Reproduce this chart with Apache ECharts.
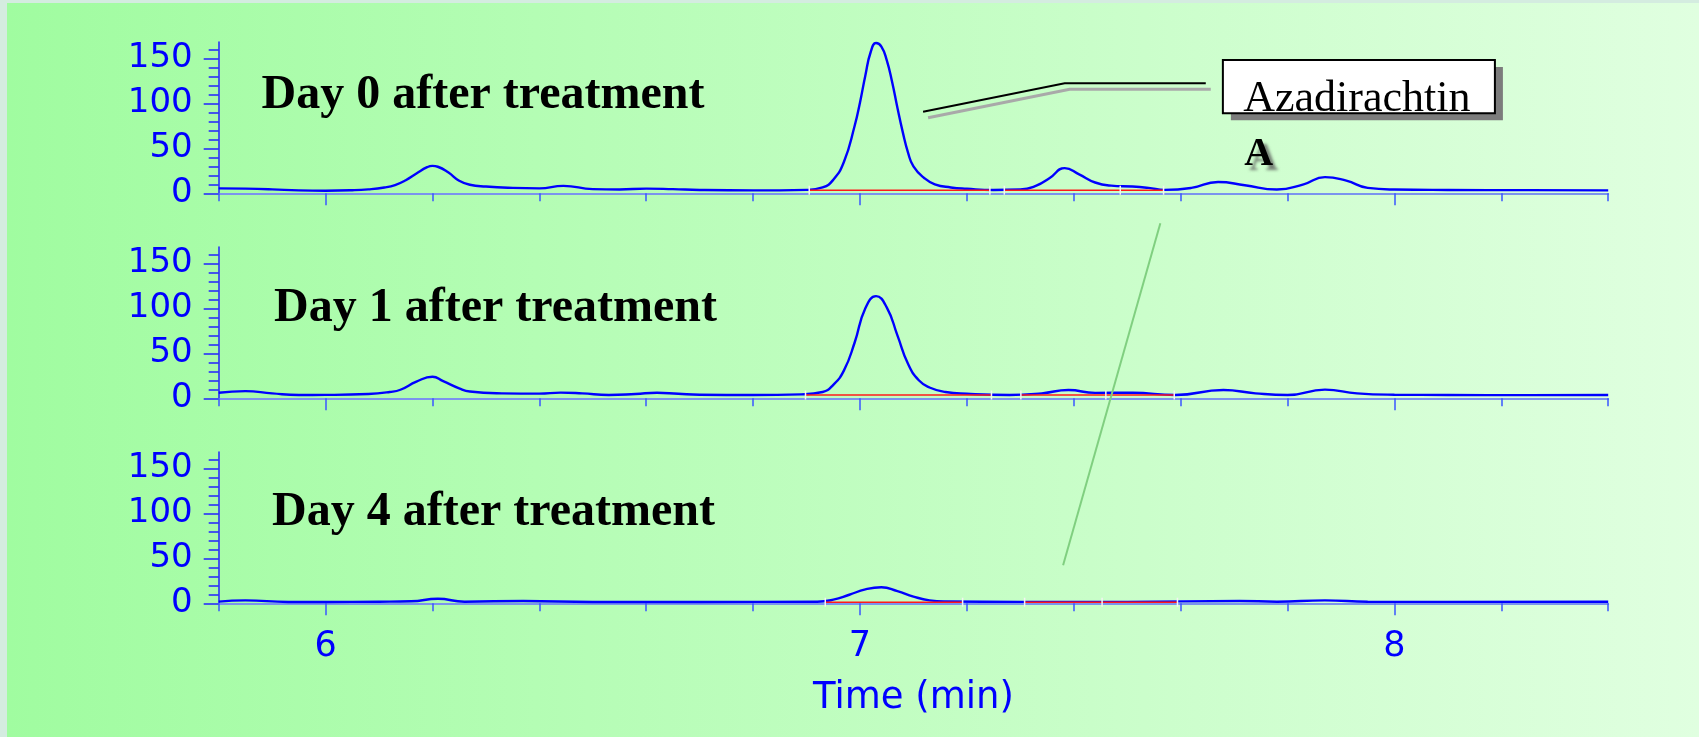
<!DOCTYPE html>
<html><head><meta charset="utf-8">
<script src="https://cdn.jsdelivr.net/npm/echarts@6/dist/echarts.min.js"></script>
<style>
html,body{margin:0;padding:0;background:#d4ece0;overflow:hidden;width:1699px;height:737px}
#c{position:absolute;left:7px;top:3px;width:1692px;height:734px;background:linear-gradient(to right,#a0fca0,#e0ffe0)}
</style>
</head><body><div id="c"></div>
<script>
// ---- data ----
const panelTitles = ['Day 0 after treatment', 'Day 1 after treatment', 'Day 4 after treatment'];
const axisTitle = 'Time (min)';
const xMajorTicks = [6, 7, 8];
const xMinorTicks = [5.8, 6.0, 6.2, 6.4, 6.6, 6.8, 7.0, 7.2, 7.4, 7.6, 7.8, 8.0, 8.2, 8.4];
const yMajorTicks = [0, 50, 100, 150];
const yMinorTicks = [0, 10, 20, 30, 40, 50, 60, 70, 80, 90, 100, 110, 120, 130, 140, 150, 160];

const day0Time = [5.80,5.85,5.90,5.95,6.00,6.05,6.08,6.11,6.13,6.15,6.17,6.19,6.20,6.21,6.23,6.25,6.27,6.30,6.35,6.40,6.445,6.50,6.55,6.60,6.65,6.70,6.80,6.90,6.93,6.95,6.97,6.99,7.00,7.01,7.02,7.03,7.04,7.05,7.06,7.07,7.08,7.09,7.10,7.12,7.14,7.17,7.20,7.25,7.30,7.33,7.355,7.383,7.41,7.44,7.47,7.51,7.54,7.57,7.62,7.67,7.72,7.78,7.83,7.87,7.91,7.95,8.00,8.10,8.25,8.40];
const day0Signal = [5.5,5.2,4.4,3.2,2.9,3.4,4.4,6.5,9.2,14.5,22,29,30.5,29.5,23,14,9.5,7.5,6,5.5,8.3,4.6,4.2,5.2,4.6,3.7,3.2,3.8,6.5,15,35,75,101,131,157,167,163,148,124,95,68,45,30,17,10,6.5,5,3.7,4.2,8.5,17,28,21,12,8.5,7.5,6,3.8,6,12.5,9,4.2,10,18,14,6,4.2,3.7,3.5,3.3];

const day1Time = [5.80,5.85,5.90,5.95,6.00,6.08,6.12,6.14,6.17,6.20,6.22,6.25,6.27,6.33,6.40,6.44,6.48,6.53,6.58,6.62,6.66,6.70,6.80,6.89,6.93,6.95,6.97,6.99,7.01,7.03,7.05,7.07,7.09,7.11,7.13,7.16,7.20,7.28,7.34,7.39,7.44,7.51,7.59,7.68,7.74,7.80,7.87,7.93,8.00,8.10,8.25,8.40];
const day1Signal = [6.2,8,5.5,3.7,3.8,4.8,7,9.5,18.5,24,19,11,7.5,5.5,5.2,6.3,5.5,3.7,4.8,6.2,5,4,3.7,4.4,7,15,31,62,100,113.5,101,70,38,20,12,7,5,3.7,5.5,9.2,6,6.2,3.7,9.2,5.5,3.7,9.6,5.5,4,3.7,3.5,3.7];

const day4Time = [5.80,5.85,5.93,6.00,6.10,6.16,6.21,6.26,6.37,6.50,6.70,6.92,6.95,6.98,7.01,7.04,7.07,7.10,7.13,7.16,7.30,7.50,7.71,7.78,7.87,7.95,8.10,8.40];
const day4Signal = [1.8,3.3,1.5,1.5,1.8,2.2,5,1.8,2.6,1.5,1.5,1.8,4,9.5,15.5,17.8,13.5,7.5,3.3,2,1.6,1.6,2.6,1.8,3.3,1.8,1.6,1.8];

// integration baselines (red), segments of [time, signal]
const day0Baseline = [[[6.905,3.3],[7.243,3.3]], [[7.27,3.4],[7.487,3.4],[7.568,3.4]]];
const day1Baseline = [[[6.898,3.6],[7.246,3.6]], [[7.301,3.6],[7.46,3.6],[7.588,3.6]]];
const day4Baseline = [[[6.935,1.2],[7.192,1.2]], [[7.308,1.2],[7.453,1.2],[7.594,1.2]]];

// annotation anchors in data units (panel index, [time, signal])
const peakLabel = 'Azadirachtin';
const peakLabel2 = 'A';
const leaderLine = [[7.118, 90.7], [7.383, 122.2], [7.647, 122.2]];      // panel 0
const labelBox = [[7.679, 148.1], [8.188, 88.9]];                        // panel 0
const labelTextAt = [7.717, 104.5];                                      // panel 0
const label2At = [7.719, 42.5];                                          // panel 0
const greenTop = [7.562, 194.4];                                         // panel 1
const greenBottom = [7.380, 42.2];                                       // panel 2

// ---- chart ----
const panels = [
  {time: day0Time, signal: day0Signal, base: day0Baseline},
  {time: day1Time, signal: day1Signal, base: day1Baseline},
  {time: day4Time, signal: day4Signal, base: day4Baseline}
];
const gridTops = [39.1, 244.1, 449.1];
const titlePos = [[254.5, 69], [267, 282], [265, 486]];

const chart = echarts.init(document.getElementById('c'), null, {renderer: 'canvas'});
const grids = [], xAxes = [], yAxes = [], series = [];
const blue = '#0000ff';
panels.forEach((p, i) => {
  const last = i === 2;
  grids.push({left: 211.7, right: 90.8, top: gridTops[i], height: 151.2});
  xAxes.push({
    type: 'value', gridIndex: i, min: 5.8, max: 8.4, position: 'bottom',
    axisLine: {show: true, onZero: false, lineStyle: {color: '#7b93ee', width: 2}},
    axisTick: {show: true, customValues: xMajorTicks, length: 12, lineStyle: {color: '#3a55ff', width: 1.5}},
    axisLabel: last ? {show: true, customValues: xMajorTicks, margin: 26, color: blue, fontSize: 35, fontFamily: 'DejaVu Sans'} : {show: false},
    splitLine: {show: false},
    name: last ? axisTitle : '', nameLocation: 'middle', nameGap: 77,
    nameTextStyle: {color: blue, fontSize: 37, fontFamily: 'DejaVu Sans', verticalAlign: 'top'}
  });
  xAxes.push({
    type: 'value', gridIndex: i, min: 5.8, max: 8.4, position: 'bottom',
    axisLine: {show: false, onZero: false},
    axisTick: {show: true, customValues: xMinorTicks, length: 8, lineStyle: {color: '#3a55ff', width: 1.5}},
    axisLabel: {show: false}, splitLine: {show: false}
  });
  yAxes.push({
    type: 'value', gridIndex: i, min: 0, max: 168, position: 'left',
    axisLine: {show: true, onZero: false, lineStyle: {color: '#2222ff', width: 1.5}},
    axisTick: {show: true, customValues: yMajorTicks, length: 15, lineStyle: {color: '#2222ff', width: 1.5}},
    axisLabel: {show: true, customValues: yMajorTicks, margin: 26, color: blue, fontSize: 34, fontFamily: 'DejaVu Sans'},
    splitLine: {show: false}
  });
  yAxes.push({
    type: 'value', gridIndex: i, min: 0, max: 168, position: 'left',
    axisLine: {show: false, onZero: false},
    axisTick: {show: true, customValues: yMinorTicks, length: 10, lineStyle: {color: '#2222ff', width: 1.5}},
    axisLabel: {show: false}, splitLine: {show: false}
  });
  series.push({
    type: 'line', xAxisIndex: 2 * i, yAxisIndex: 2 * i,
    data: p.time.map((t, k) => [t, p.signal[k]]),
    smooth: 0.5, showSymbol: false, symbol: 'none',
    lineStyle: {color: blue, width: 2.4}, z: 3, silent: true
  });
  p.base.forEach(seg => series.push({
    type: 'line', xAxisIndex: 2 * i, yAxisIndex: 2 * i, data: seg,
    symbol: 'rect', symbolSize: [1.5, 9], showSymbol: true,
    itemStyle: {color: '#f4f4f4'}, lineStyle: {color: '#ff1a1a', width: 1.5}, z: 4, silent: true
  }));
});

chart.setOption({
  animation: false,
  backgroundColor: 'transparent',
  title: panelTitles.map((t, i) => ({
    text: t, left: titlePos[i][0], top: titlePos[i][1], padding: 0,
    textStyle: {fontFamily: 'Liberation Serif', fontWeight: 'bold', fontSize: 48, color: '#000'}
  })),
  grid: grids, xAxis: xAxes, yAxis: yAxes, series: series
});

// annotations placed through the axes' own scales
const toPx = (g, pt) => chart.convertToPixel({xAxisIndex: 2 * g, yAxisIndex: 2 * g}, pt);
const lp = leaderLine.map(pt => toPx(0, pt));
const b0 = toPx(0, labelBox[0]), b1 = toPx(0, labelBox[1]);
const tp = toPx(0, labelTextAt), ap = toPx(0, label2At);
const g0 = toPx(1, greenTop), g1 = toPx(2, greenBottom);
chart.setOption({
  graphic: [
    {type: 'polyline', shape: {points: lp.map(p => [p[0] + 5, p[1] + 6])}, style: {stroke: '#a9a9a9', lineWidth: 3, fill: null}, z: 10, silent: true},
    {type: 'polyline', shape: {points: lp}, style: {stroke: '#000', lineWidth: 2, fill: null}, z: 11, silent: true},
    {type: 'rect', shape: {x: b0[0] + 8, y: b0[1] + 7, width: b1[0] - b0[0], height: b1[1] - b0[1]}, style: {fill: '#7c7c7c'}, z: 10, silent: true},
    {type: 'rect', shape: {x: b0[0], y: b0[1], width: b1[0] - b0[0], height: b1[1] - b0[1]}, style: {fill: '#fff', stroke: '#000', lineWidth: 2}, z: 11, silent: true},
    {type: 'text', x: tp[0], y: tp[1], style: {text: peakLabel, fontFamily: 'Liberation Serif', fontSize: 44, fill: '#000', align: 'left', verticalAlign: 'middle'}, z: 12, silent: true},
    {type: 'text', x: ap[0], y: ap[1], style: {text: peakLabel2, fontFamily: 'Liberation Serif', fontWeight: 'bold', fontSize: 40, fill: '#000', align: 'left', verticalAlign: 'middle', textShadowColor: 'rgba(90,90,90,0.75)', textShadowOffsetX: 5, textShadowOffsetY: 5, textShadowBlur: 3}, z: 12, silent: true},
    {type: 'line', shape: {x1: g0[0], y1: g0[1], x2: g1[0], y2: g1[1]}, style: {stroke: '#80cf80', lineWidth: 2}, z: 10, silent: true}
  ]
});
</script>
</body></html>
